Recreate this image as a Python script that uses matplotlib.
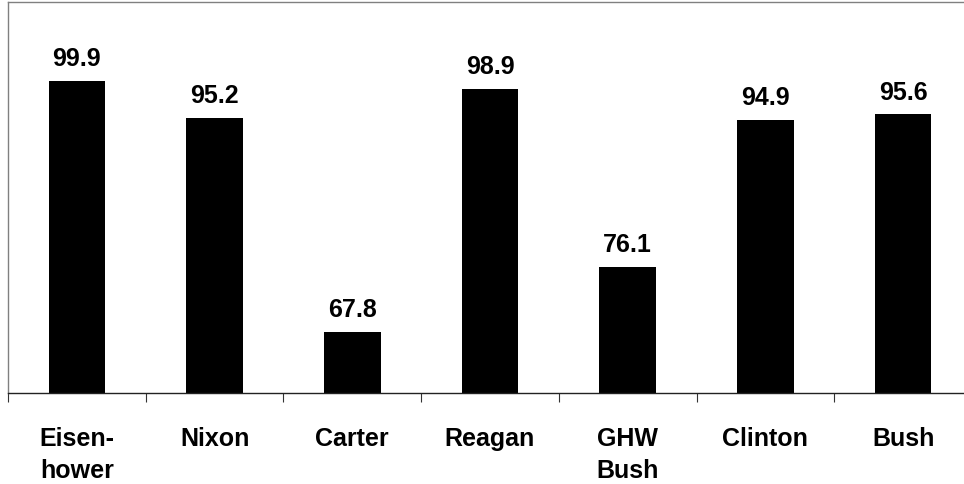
import matplotlib
matplotlib.use("Agg")
import matplotlib.pyplot as plt
import numpy as np

categories = ["Eisen-\nhower", "Nixon", "Carter", "Reagan", "GHW\nBush", "Clinton", "Bush"]
values = [99.9, 95.2, 67.8, 98.9, 76.1, 94.9, 95.6]
value_labels = ["99.9", "95.2", "67.8", "98.9", "76.1", "94.9", "95.6"]

plt.rcParams['font.family'] = ['Liberation Sans', 'DejaVu Sans']

fig = plt.figure(figsize=(9.64, 4.85), dpi=100)
ax = fig.add_axes([8/964, (485-394.3)/485, 964/964, 391.6/485])

x = np.arange(len(categories))
ax.bar(x, values, width=0.41, color='black', bottom=0)
ax.set_ylim(60, 110)
ax.set_xlim(-0.5, len(categories) - 0.5)

for xi, v, lab in zip(x, values, value_labels):
    ax.annotate(lab, (xi, v), xytext=(0, 11.5), textcoords='offset points',
                ha='center', va='baseline', fontsize=18, fontweight='bold')

ax.set_xticks(np.arange(len(categories) + 1) - 0.5)
ax.set_xticklabels([])
ax.set_xticks(x, minor=True)
ax.set_xticklabels(categories, minor=True, fontsize=18, fontweight='bold', linespacing=1.4)
ax.tick_params(axis='x', which='major', direction='out', length=6.5, width=0.8, color='#333333')
ax.tick_params(axis='x', which='minor', length=0, pad=23.5)
ax.set_yticks([])

ax.spines['right'].set_visible(False)
ax.spines['left'].set_color('#808080')
ax.spines['top'].set_color('#808080')
ax.spines['bottom'].set_color('#222222')
for s in ax.spines.values():
    s.set_linewidth(1.0)

fig.savefig("out.png", dpi=100)
